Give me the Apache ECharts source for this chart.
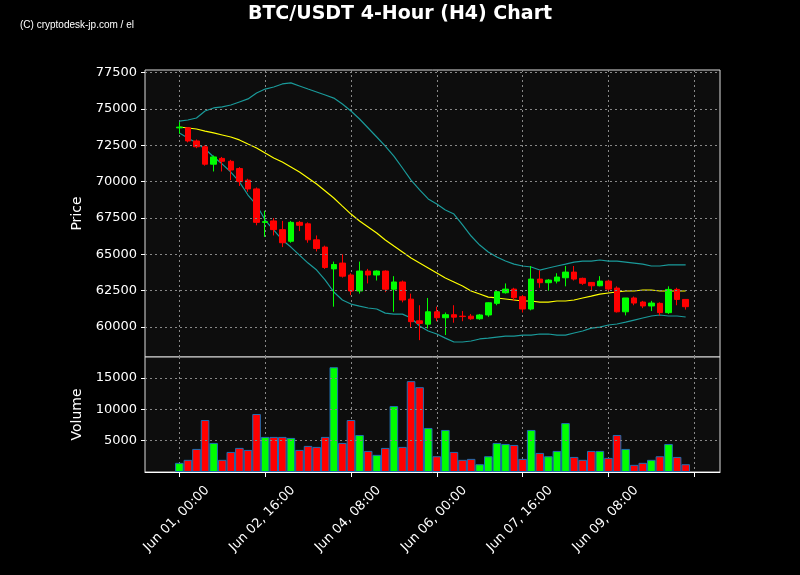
<!DOCTYPE html>
<html><head><meta charset="utf-8">
<script src="https://cdn.jsdelivr.net/npm/echarts@6/dist/echarts.min.js"></script>
<style>html,body{margin:0;background:#000}#c{width:800px;height:575px}</style>
</head><body><div id="c"></div>
<script>
const opens  = [73700,73700,72800,72400,71200,71600,71400,70900,70100,69500,67200,67300,66700,65900,67200,67100,66000,65500,64000,64400,63580,62480,63850,63580,63850,62600,63100,61920,60430,60200,61050,60640,60850,60750,60750,60570,60830,61630,62360,62610,62090,61240,63300,63050,63160,63390,63780,63350,63070,62840,63160,62680,61050,62000,61720,61450,61630,60990,62590,61900];
const closes = [73750,72800,72400,71200,71700,71400,70800,70000,69500,67200,67250,66700,65800,67200,67000,66000,65400,64100,64300,63500,62480,63850,63580,63850,62600,63100,61860,60370,60250,61050,60640,60850,60680,60720,60570,60830,61670,62430,62610,62020,61240,63300,63050,63230,63440,63780,63300,63010,62840,63160,62610,61050,62000,61650,61450,61650,60990,62590,61900,61400];
const lows   = [73300,72700,72300,71100,70700,70700,70100,69700,69300,67000,66200,66300,65500,65800,66600,65800,65200,64000,61400,63400,62200,62300,63000,63200,62400,61050,61700,60000,59100,59900,60400,59450,60300,60400,60500,60500,60700,61500,62300,61800,61000,61150,62700,62500,63000,62800,63200,62900,62500,62800,62500,61000,60800,61500,61300,61100,60800,60900,61500,61200];
const highs  = [74100,73750,72900,72500,71800,71700,71500,71000,70200,69600,68000,67500,67300,67300,67300,67200,66300,65600,64500,65000,63700,64500,64000,63900,63900,63500,63200,62300,61500,62000,61400,61000,61500,61100,60900,60900,61700,62500,63000,62700,62200,64200,63900,63300,63700,64200,64200,63400,63100,63500,63250,62800,62000,62100,61800,61800,61700,62800,62700,61900];
const midBand = [73760,73690,73620,73480,73350,73210,73070,72870,72590,72320,71970,71630,71350,71010,70660,70250,69840,69360,68880,68320,67770,67290,66880,66470,65990,65570,65160,64750,64400,64060,63720,63370,63100,62820,62480,62270,62060,62000,61930,61860,61790,61790,61720,61720,61790,61790,61860,62000,62130,62270,62340,62410,62480,62480,62550,62550,62480,62480,62480,62480];
const upperBand = [74170,74240,74380,74860,75070,75140,75270,75480,75690,76100,76370,76510,76720,76790,76580,76370,76170,75960,75750,75340,74860,74310,73690,73070,72450,71760,70940,70110,69430,68810,68460,68050,67770,67020,66260,65640,65160,64820,64540,64330,64200,64130,63920,64060,64200,64330,64470,64540,64540,64610,64540,64540,64470,64400,64330,64200,64200,64270,64270,64270];
const lowerBand = [73350,73000,72660,72250,71700,71210,70660,69980,69080,68390,67360,66670,65990,65500,64950,64400,63920,63230,62410,61860,61580,61440,61310,61240,60960,60890,60890,60620,60070,59730,59520,59240,58970,58970,59040,59180,59240,59310,59380,59380,59450,59450,59520,59520,59450,59450,59590,59730,59930,60000,60140,60210,60340,60480,60620,60760,60830,60760,60760,60690];
const volumes = [1460,1940,3680,8290,4630,1940,3200,3840,3520,9240,5590,5590,5590,5430,3520,4160,4000,5590,16700,4630,8290,5900,3360,2730,3840,10510,4000,14480,13520,7020,2510,6700,3200,1940,2090,1240,2510,4630,4470,4310,2090,6700,3040,2510,3360,7800,2400,1940,3360,3360,2250,5900,3680,1140,1460,1940,2510,4470,2400,1240];
const tickLabels = ['Jun 01, 00:00','Jun 02, 16:00','Jun 04, 08:00','Jun 06, 00:00','Jun 07, 16:00','Jun 09, 08:00',''];
const priceTicks = [60000,62500,65000,67500,70000,72500,75000,77500];
const volumeTicks = [5000,10000,15000];

const PAD_L = 4, PAD_R = 4, N = opens.length + PAD_L + PAD_R;
const cats = Array.from({length:N},(_,k)=>String(k));
const pad = arr => Array(PAD_L).fill('-').concat(arr, Array(PAD_R).fill('-'));
const isTick = k => (k-PAD_L) % 10 === 0 && k >= PAD_L;
const candle = pad(opens.map((o,i)=>[o,closes[i],lows[i],highs[i]]));
const vol = pad(volumes.map((v,i)=>({value:v,itemStyle:{color: closes[i]>=opens[i]?'#00ff00':'#ff0000'}})));

const dotted = {color:'#888',type:[2,3],width:1};
const gridLine = {show:true,lineStyle:dotted};
const hLines = vals => ({silent:true,symbol:'none',label:{show:false},lineStyle:dotted,data:vals.map(v=>({yAxis:v}))});
const chart = echarts.init(document.getElementById('c'));
chart.setOption({
  backgroundColor:'#000',
  animation:false,
  title:[{text:'BTC/USDT 4-Hour (H4) Chart',left:'center',top:0,textStyle:{color:'#fff',fontSize:19,fontWeight:'bold',fontFamily:'DejaVu Sans'}},
         {text:'(C) cryptodesk-jp.com / el',left:15,top:15,textStyle:{color:'#fff',fontSize:10,fontWeight:'normal',fontFamily:'Liberation Sans'}}],
  grid:[{left:145,right:80,top:70,height:287,show:true,backgroundColor:'#0d0d0d',borderColor:'#ddd',borderWidth:1},
        {left:145,right:80,top:357,height:115,show:true,backgroundColor:'#0d0d0d',borderColor:'#ddd',borderWidth:1}],
  xAxis:[
    {type:'category',gridIndex:0,data:cats,boundaryGap:false,axisLine:{show:false},axisTick:{show:false},axisLabel:{show:false},
     splitLine:Object.assign({interval:(k)=>isTick(k)},gridLine)},
    {type:'category',gridIndex:1,data:cats,boundaryGap:false,axisLine:{show:true,lineStyle:{color:'#fff'}},
     axisTick:{show:true,interval:(k)=>isTick(k),length:5,lineStyle:{color:'#fff'}},
     axisLabel:{interval:(k)=>isTick(k),rotate:45,align:'center',padding:[0,8,0,0],color:'#fff',fontSize:13,fontFamily:'DejaVu Sans',margin:44,
       formatter:(v)=>{const k=+v; return tickLabels[(k-PAD_L)/10]||'';}},
     splitLine:Object.assign({interval:(k)=>isTick(k)},gridLine)}
  ],
  yAxis:[
    {type:'value',gridIndex:0,min:57940,max:77680,name:'Price',nameLocation:'middle',nameGap:58,
     nameTextStyle:{color:'#fff',fontSize:14,fontFamily:'DejaVu Sans'},
     axisLine:{show:false},axisTick:{show:true,length:4,lineStyle:{color:'#fff'},customValues:priceTicks},
     axisLabel:{color:'#fff',fontSize:13,fontFamily:'DejaVu Sans',customValues:priceTicks,formatter:v=>String(v)},splitLine:{show:false}},
    {type:'value',gridIndex:1,min:0,max:18330,name:'Volume',nameLocation:'middle',nameGap:58,
     nameTextStyle:{color:'#fff',fontSize:14,fontFamily:'DejaVu Sans'},
     axisLine:{show:false},axisTick:{show:true,length:4,lineStyle:{color:'#fff'},customValues:volumeTicks},
     axisLabel:{color:'#fff',fontSize:13,fontFamily:'DejaVu Sans',customValues:volumeTicks,formatter:v=>String(v)},splitLine:{show:false}}
  ],
  series:[
    {type:'candlestick',xAxisIndex:0,yAxisIndex:0,data:candle,barWidth:'70%',markLine:hLines(priceTicks),z:3,
     itemStyle:{color:'#00ff00',color0:'#ff0000',borderColor:'#00ff00',borderColor0:'#ff0000',borderWidth:1}},
    {type:'line',xAxisIndex:0,yAxisIndex:0,data:pad(midBand),symbol:'none',lineStyle:{color:'#ffff00',width:1.2}},
    {type:'line',xAxisIndex:0,yAxisIndex:0,data:pad(upperBand),symbol:'none',lineStyle:{color:'#1a9a9a',width:1.2}},
    {type:'line',xAxisIndex:0,yAxisIndex:0,data:pad(lowerBand),symbol:'none',lineStyle:{color:'#1a9a9a',width:1.2}},
    {type:'bar',xAxisIndex:1,yAxisIndex:1,data:vol,barCategoryGap:'0%',barWidth:'100%',markLine:hLines(volumeTicks),
     itemStyle:{borderColor:'#1f6fb4',borderWidth:1}}
  ]
});
</script></body></html>
